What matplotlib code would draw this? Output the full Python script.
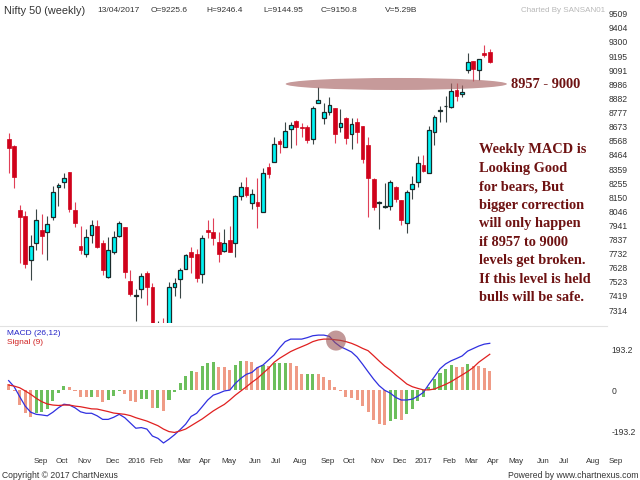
import matplotlib
matplotlib.use('Agg')
import matplotlib.pyplot as plt
import matplotlib.transforms as mtransforms
from matplotlib.patches import Ellipse
import numpy as np
import pandas as pd

# Datos semanales del Nifty 50 (primera vela: semana del 10/08/2015)
first_week = '2015-08-10'
last_axis_day = '2017-09-30'

opens = [8579, 8532, 8056, 8011, 7683, 7809, 7907, 7890, 8002, 8228,
         8265, 8337, 8056, 7791, 7730, 7868, 7937, 7813, 7557, 7742,
         7861, 7927, 7530, 7422, 7470, 7589, 7487, 7020, 7200, 7040,
         7487, 7542, 7616, 7745, 7730, 7579, 7910, 7895, 7821, 7754,
         7833, 7813, 8162, 8228, 8105, 8117, 8039, 8376, 8413, 8567,
         8520, 8653, 8715, 8673, 8668, 8582, 8850, 8735, 8784, 8809,
         8668, 8735, 8616, 8710, 8678, 8537, 8283, 8105, 8080, 8087,
         8228, 8130, 7962, 8211, 8261, 8387, 8327, 8636, 8791, 8826,
         8821, 8944, 8915, 9093, 9161, 9093, 9221, 9225.6]
highs = [8624, 8537, 8093, 8048, 7870, 8061, 8026, 8011, 8236, 8253,
         8327, 8337, 8117, 7939, 7913, 7982, 7982, 7833, 7858, 7900,
         7976, 7932, 7611, 7470, 7587, 7604, 7517, 7232, 7253, 7522,
         7550, 7624, 7730, 7782, 7767, 7870, 7982, 7994, 7895, 7913,
         7939, 8167, 8265, 8298, 8211, 8290, 8365, 8402, 8599, 8579,
         8710, 8710, 8722, 8698, 8685, 8826, 8969, 8846, 8890, 8809,
         8800, 8747, 8735, 8735, 8678, 8594, 8290, 8120, 8253, 8278,
         8233, 8130, 8204, 8307, 8456, 8463, 8678, 8759, 8828, 8900,
         8999, 8994, 8981, 9221, 9161, 9174, 9278, 9246.4]
lows = [8332, 8221, 7661, 7626, 7537, 7759, 7727, 7685, 7982, 8085,
        8216, 8043, 7927, 7730, 7710, 7813, 7772, 7574, 7550, 7730,
        7858, 7550, 7419, 7236, 7402, 7352, 6870, 6990, 6960, 6825,
        7419, 7402, 7616, 7587, 7522, 7517, 7846, 7796, 7673, 7747,
        7742, 7710, 8130, 8154, 8061, 7924, 8039, 8290, 8413, 8476,
        8520, 8517, 8537, 8599, 8550, 8544, 8850, 8690, 8759, 8554,
        8636, 8542, 8505, 8550, 8402, 8001, 8056, 7913, 8068, 8056,
        8117, 7945, 7887, 8135, 8228, 8339, 8327, 8537, 8710, 8710,
        8809, 8863, 8895, 9068, 9013, 9019, 9191, 9144.95]
closes = [8517, 8298, 8002, 7653, 7791, 7982, 7865, 7950, 8187, 8241,
          8295, 8063, 7957, 7759, 7853, 7942, 7784, 7611, 7759, 7858,
          7962, 7599, 7436, 7424, 7567, 7487, 6980, 7210, 7030, 7487,
          7515, 7609, 7722, 7710, 7550, 7850, 7895, 7850, 7730, 7813,
          7742, 8159, 8226, 8167, 8172, 8085, 8327, 8322, 8542, 8544,
          8641, 8685, 8673, 8665, 8574, 8809, 8870, 8779, 8833, 8616,
          8698, 8587, 8693, 8636, 8433, 8295, 8076, 8117, 8085, 8265,
          8137, 7982, 8187, 8246, 8402, 8347, 8648, 8742, 8793, 8828,
          8939, 8900, 8932, 9154, 9098, 9174, 9201, 9150.8]

# MACD (26,12), senal (9) e histograma
macd_line = [46, 17, -30, -75, -104, -114, -117, -121, -104, -83,
             -66, -70, -83, -102, -109, -109, -121, -138, -138, -128,
             -114, -130, -155, -180, -177, -184, -217, -228, -250, -232,
             -211, -187, -161, -124, -109, -78, -46, -23, -14, -3,
             1, 33, 57, 76, 85, 108, 120, 144, 168, 202,
             231, 243, 243, 243, 250, 259, 262, 262, 256, 227,
             207, 195, 182, 158, 124, 88, 53, 22, 0, -13,
             -34, -46, -46, -42, -28, -10, 29, 65, 102, 125,
             140, 151, 163, 186, 198, 210, 219, 223]
signal_line = [25, 20, 12, -3, -19, -38, -54, -65, -70, -72,
               -70, -70, -75, -78, -83, -88, -89, -95, -101, -108,
               -111, -114, -120, -130, -138, -146, -157, -168, -184, -196,
               -200, -193, -184, -168, -152, -136, -117, -98, -82, -67,
               -46, -23, -3, 17, 38, 57, 81, 104, 133, 152,
               168, 184, 196, 207, 218, 231, 239, 243, 243, 240,
               237, 231, 223, 212, 199, 188, 164, 139, 115, 96,
               73, 52, 30, 17, 9, 2, 2, 6, 17, 28,
               41, 57, 73, 89, 108, 133, 152, 171]
histogram = [28, -2, -70, -106, -125, -109, -104, -89, -51, -14,
             20, 17, -3, -30, -33, -30, -33, -54, -46, -25,
             -1, -19, -51, -54, -41, -40, -83, -82, -98, -46,
             -7, 33, 69, 92, 87, 114, 128, 133, 112, 109,
             96, 120, 141, 139, 133, 112, 120, 117, 128, 129,
             130, 128, 117, 76, 77, 78, 76, 61, 49, 17,
             -4, -30, -35, -46, -73, -104, -141, -160, -165, -144,
             -136, -141, -114, -89, -51, -30, 16, 56, 80, 99,
             120, 112, 110, 123, 115, 113, 106, 90]

price_ticks = [9509, 9404, 9300, 9195, 9091, 8986, 8882, 8777, 8673, 8568, 8464,
               8359, 8255, 8150, 8046, 7941, 7837, 7732, 7628, 7523, 7419, 7314]
macd_ticks = [193.2, 0, -193.2]
macd_tick_labels = ['193.2', '0', '-193.2']

header_title = 'Nifty 50 (weekly)'
header_values = ['13/04/2017', 'O=9225.6', 'H=9246.4', 'L=9144.95', 'C=9150.8', 'V=5.29B']
zone_label = '8957 - 9000'
note_lines = ['Weekly MACD is', 'Looking Good', 'for bears, But', 'bigger correction',
              'will only happen', 'if 8957 to 9000', 'levels get broken.',
              'If this level is held', 'bulls will be safe.']

plt.rcParams['font.family'] = ['Liberation Sans', 'DejaVu Sans']

W, H = 640, 480
fig = plt.figure(figsize=(6.4, 4.8), dpi=100)
ax = fig.add_axes([0, 1 - 323 / H, 607 / W, 323 / H])
axm = fig.add_axes([0, 1 - 452 / H, 607 / W, 126 / H])

n = len(closes)
x = np.arange(n)
o = np.array(opens)
c = np.array(closes)
hi = np.array(highs)
lo = np.array(lows)
up = c >= o
body_low = np.minimum(o, c)
body_h = np.maximum(np.abs(c - o), 2)

# Velas
ax.vlines(x[up], lo[up], hi[up], color='#3a4646', lw=0.8, zorder=2)
ax.vlines(x[~up], lo[~up], hi[~up], color='#e04058', lw=0.8, zorder=2)
ax.bar(x[up], body_h[up], 0.68, bottom=body_low[up], color='#00f4f4',
       edgecolor='#1a2a2a', linewidth=0.9, zorder=3)
ax.bar(x[~up], body_h[~up], 0.68, bottom=body_low[~up], color='#d0021b',
       edgecolor='#d0021b', linewidth=0.5, zorder=3)

# Zona 8957 - 9000
ax.add_patch(Ellipse((70.1, 8989), 40, 89, facecolor='#a86464', edgecolor='none',
                     alpha=0.65, zorder=4))

ax.set_xlim(-1.56, 108.2)
ax.set_ylim(7218.5, 9611)
ax.set_xticks([])
ax.yaxis.tick_right()
ax.set_yticks(price_ticks)
ax.set_yticklabels([str(v) for v in price_ticks])
ax.tick_params(axis='y', length=0, pad=1.5, labelsize=6.2, labelcolor='#333333')
for s in ax.spines.values():
    s.set_visible(False)

# Panel MACD
bar_colors = ['#6cbf5c' if i > 0 and histogram[i] >= histogram[i - 1] else '#ef9b86'
              for i in range(n)]
axm.bar(x, histogram, 0.55, color=bar_colors, zorder=2)
axm.plot(x, macd_line, color='#3030e0', lw=0.9, zorder=3)
axm.plot(x, signal_line, color='#e02020', lw=0.9, zorder=3)
axm.add_patch(Ellipse((59.2, 236), 3.6, 95, facecolor='#9a5454', edgecolor='none',
                      alpha=0.6, zorder=5))

axm.set_xlim(-1.56, 108.2)
axm.set_ylim(-292.8, 305.2)
axm.set_xticks([])
axm.yaxis.tick_right()
axm.set_yticks(macd_ticks)
axm.set_yticklabels(macd_tick_labels)
axm.tick_params(axis='y', length=0, pad=3, labelsize=6.2, labelcolor='#333333')
for name, s in axm.spines.items():
    s.set_visible(name == 'top')
axm.spines['top'].set_color('#e2e2e2')
axm.spines['top'].set_linewidth(0.8)

axm.text(7 / 607, 1 - 9 / 126, 'MACD (26,12)', transform=axm.transAxes,
         fontsize=6, color='#2424c8', va='baseline')
axm.text(7 / 607, 1 - 17.5 / 126, 'Signal (9)', transform=axm.transAxes,
         fontsize=6, color='#d02020', va='baseline')

# Etiquetas de meses en la primera semana de cada mes
weeks = pd.date_range(first_week, last_axis_day, freq='W-MON')
trans = mtransforms.blended_transform_factory(axm.transData, axm.transAxes)
for i, d in enumerate(weeks):
    if d.day <= 7:
        lab = str(d.year) if d.month == 1 else d.strftime('%b')
        axm.text(i + 0.45, -9.7 / 126, lab, transform=trans, ha='left', va='center',
                 fontsize=5.8, color='#333333', clip_on=False)

# Textos de cabecera y pie
fig.text(4 / W, 1 - 13.5 / H, header_title, fontsize=7.8, color='#333333', va='baseline')
for xp, t in zip([97, 151, 206, 263, 321, 385], header_values):
    fig.text(xp / W, 1 - 12.3 / H, t, fontsize=6, color='#333333', va='baseline')
fig.text(521 / W, 1 - 12.3 / H, 'Charted By SANSAN01', fontsize=5.8, color='#b8b8b8',
         va='baseline')
fig.text(2 / W, 1 - 475 / H, 'Copyright \u00a9 2017 ChartNexus', fontsize=6.2,
         color='#333333', va='center')
fig.text(638 / W, 1 - 475 / H, 'Powered by www.chartnexus.com', fontsize=6.2,
         color='#333333', va='center', ha='right')

# Anotaciones
note_font = dict(family=['Liberation Serif', 'DejaVu Serif'], weight='bold',
                 fontsize=10.4, color='#6e1212')
fig.text(511 / W, 1 - 88.3 / H, zone_label, va='baseline', **note_font)
for j, line in enumerate(note_lines):
    fig.text(479 / W, 1 - (153.5 + 18.43 * j) / H, line, va='baseline', **note_font)

fig.savefig('out.png', dpi=100, facecolor='white')
